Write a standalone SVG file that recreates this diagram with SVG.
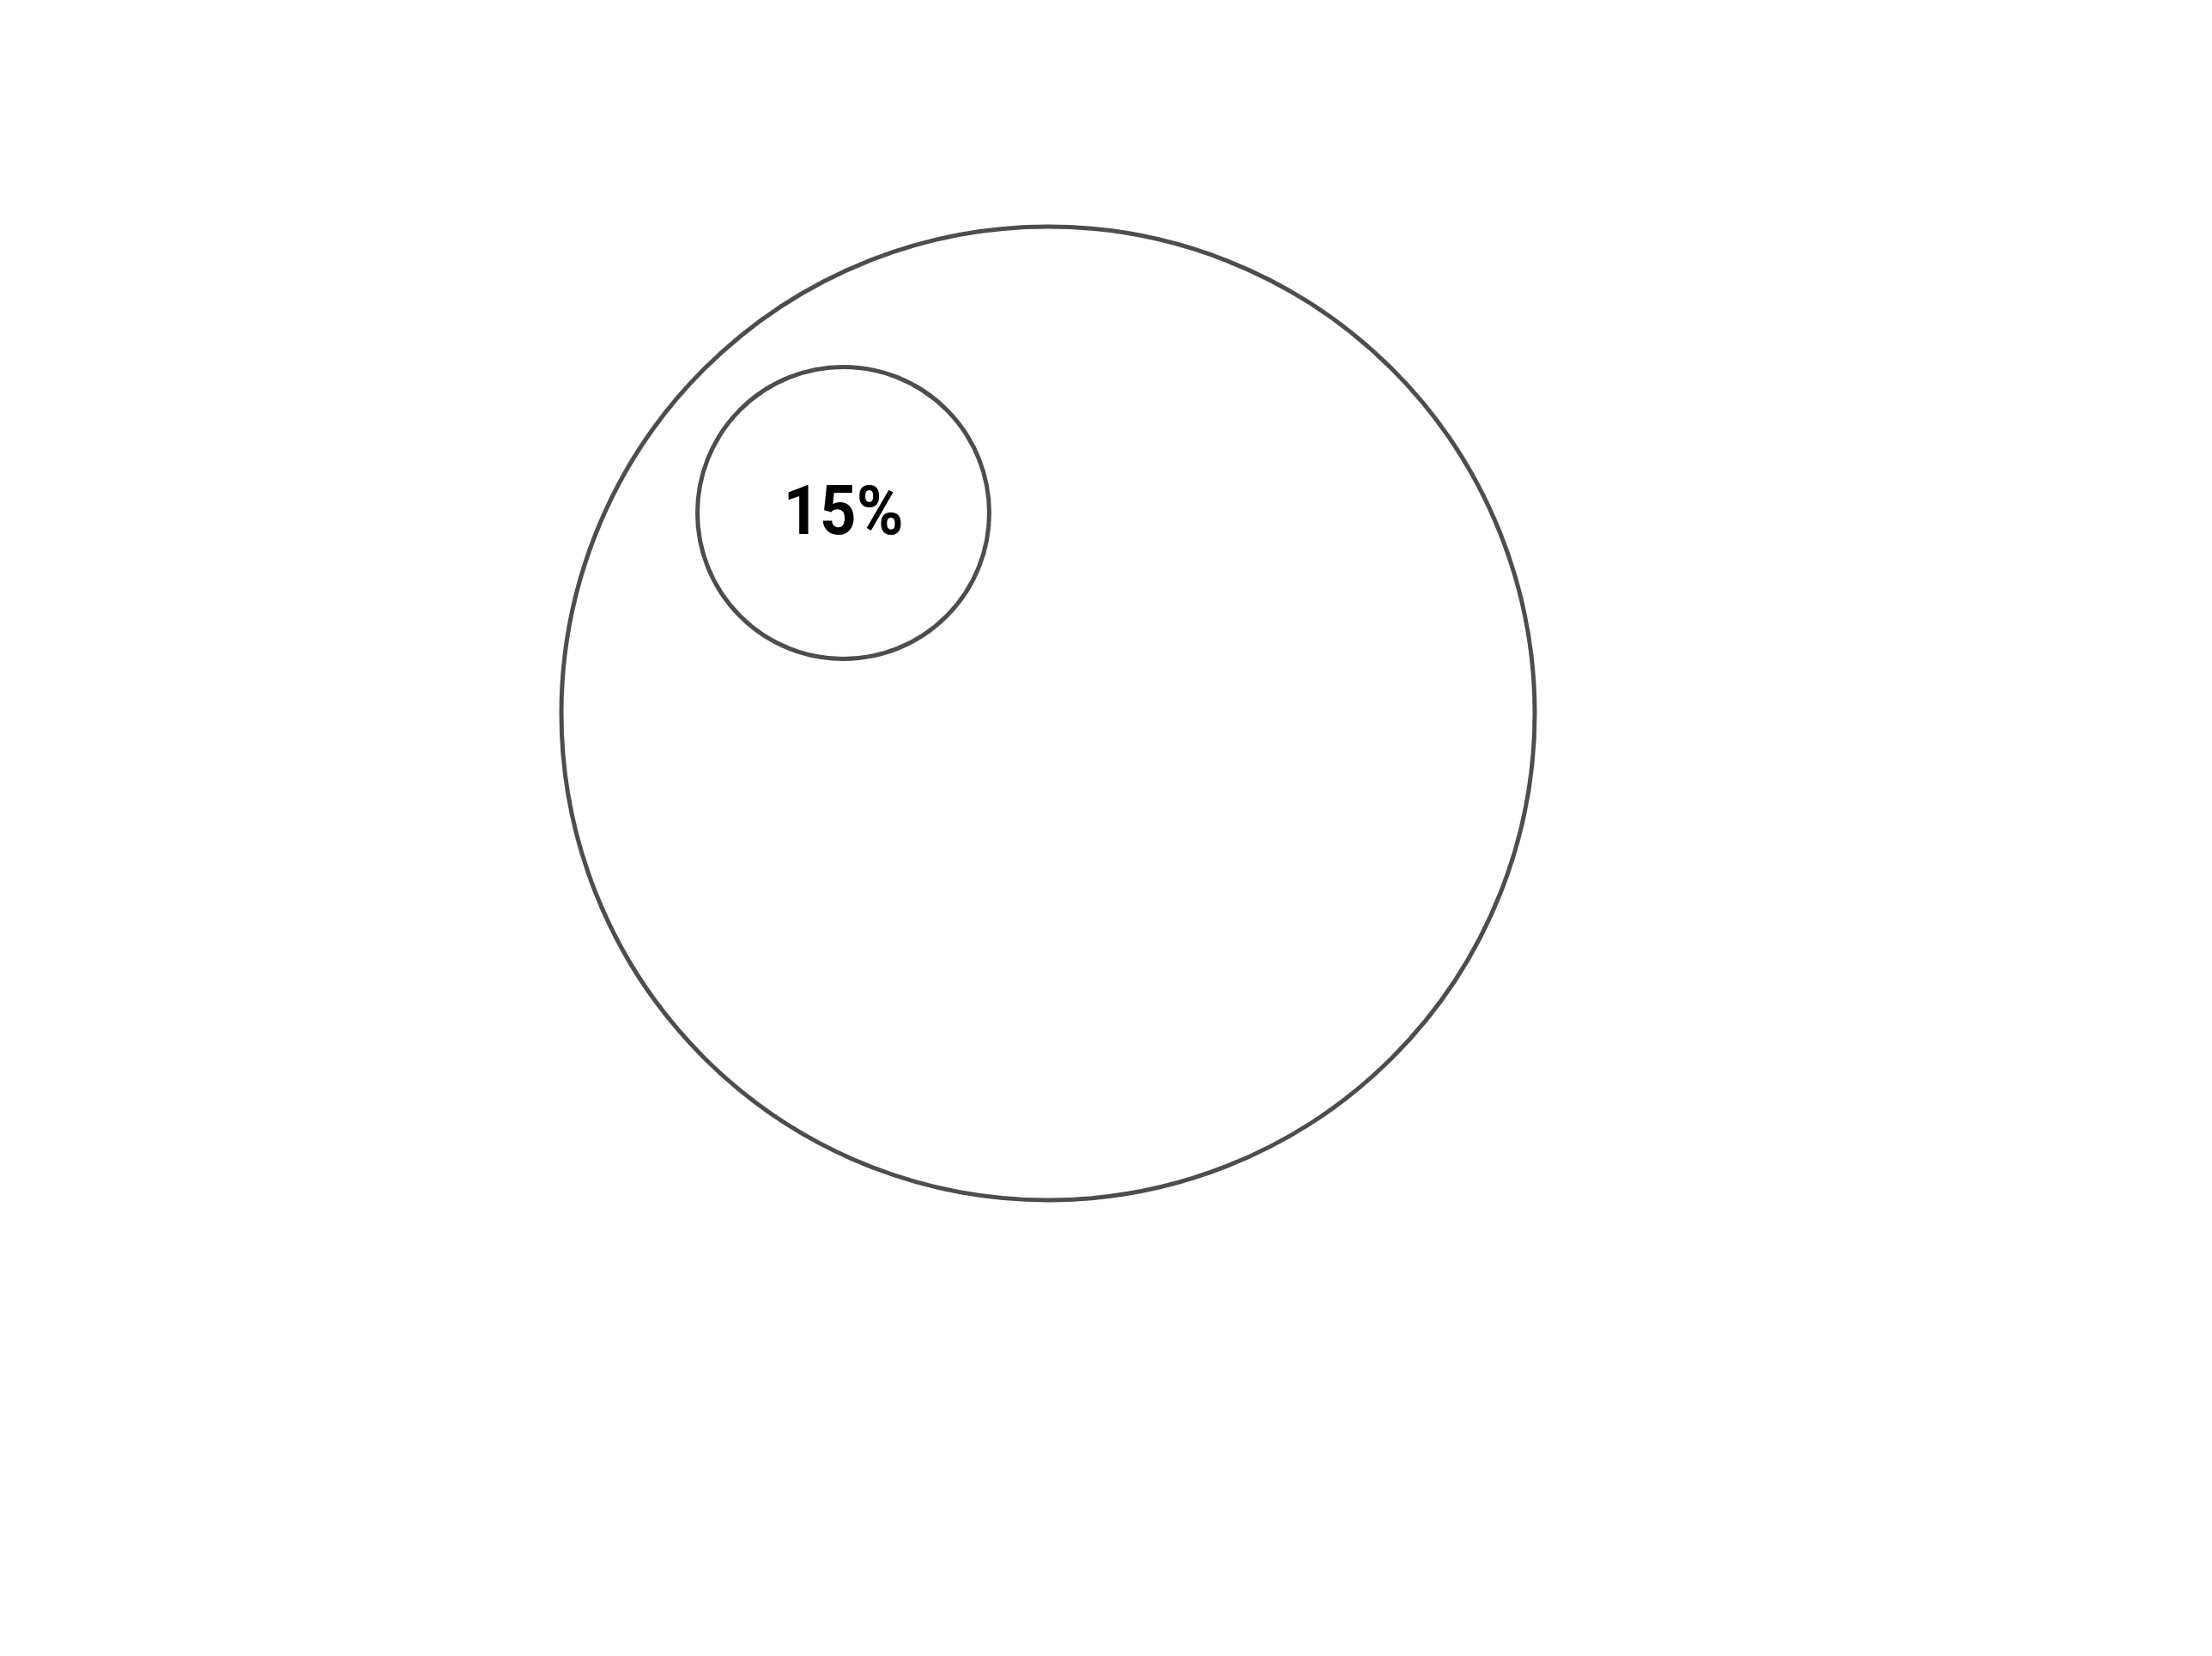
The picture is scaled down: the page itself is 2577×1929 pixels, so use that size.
<svg xmlns="http://www.w3.org/2000/svg" width="2577" height="1929" viewBox="0 0 2577 1929">
<style>
.c{fill:#ffffff;stroke:#4d4d4d;stroke-width:5}
.t{font-family:Roboto,"Liberation Sans",Arial,sans-serif;font-weight:bold;font-size:80px;fill:#000000;text-anchor:middle}
</style>
<rect width="2577" height="1929" fill="#ffffff"/>
<g id="outer"><circle class="c" cx="1221" cy="831" r="567"/></g>
<g id="inner"><circle class="c" cx="982.5" cy="597.5" r="170"/><text class="t" x="982.5" y="621.5" textLength="140" lengthAdjust="spacingAndGlyphs">15%</text></g>
<g id="connectors"></g>
</svg>
